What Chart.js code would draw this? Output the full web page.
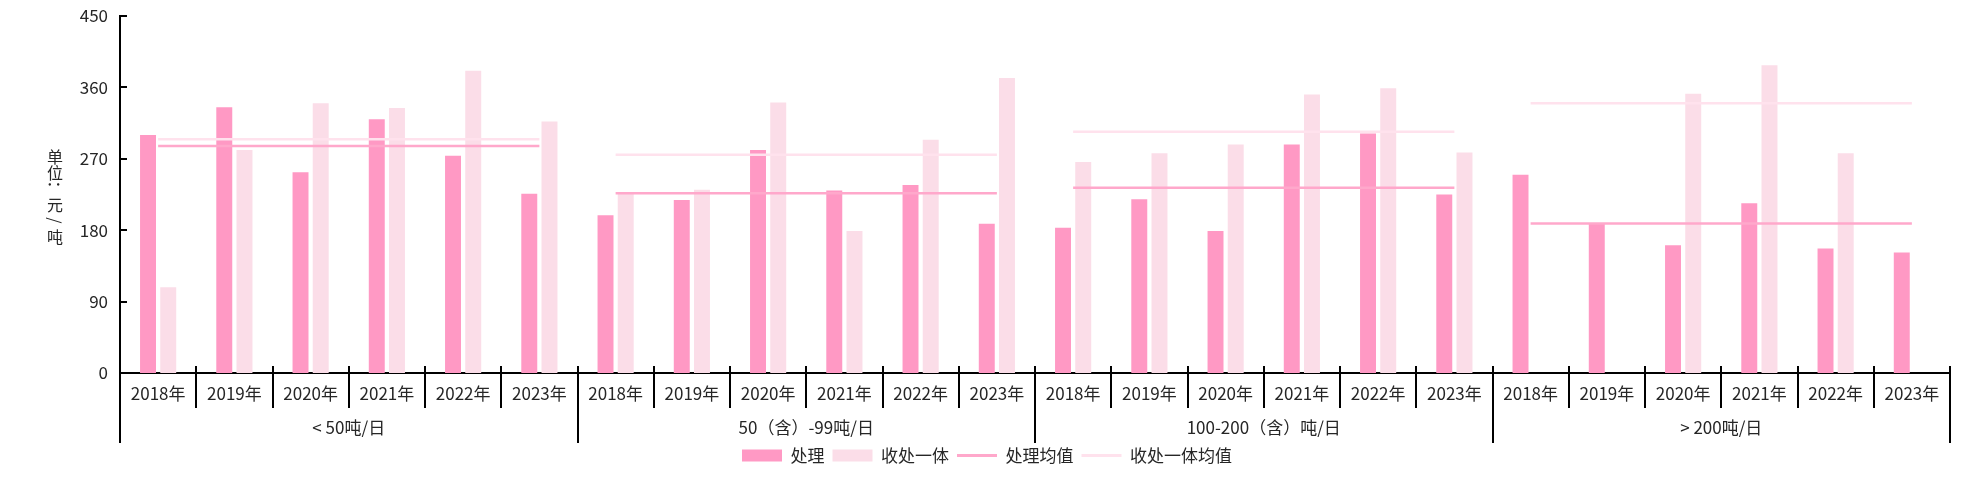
<!DOCTYPE html>
<html>
<head>
<meta charset="utf-8">
<title>处理费用</title>
<script src="https://cdn.jsdelivr.net/npm/chart.js@4.4.1/dist/chart.umd.min.js"></script>
<style>
  html, body { margin: 0; padding: 0; background: #fff; }
  .wrap { width: 1974px; height: 480px; position: relative; }
</style>
</head>
<body>
<div class="wrap"><canvas id="costChart"></canvas></div>
<script>
const years = ['2018年', '2019年', '2020年', '2021年', '2022年', '2023年'];
const groups = ['< 50吨/日', '50（含）-99吨/日', '100-200（含）吨/日', '> 200吨/日'];

// 处理 / 收处一体, per group, per year
const chuli = [300, 335, 253, 320, 274, 226,
               199, 218, 281, 230, 237, 188,
               183, 219, 179, 288, 302, 225,
               250, 188, 161, 214, 157, 152];
const shouchu = [108, 281, 340, 334, 381, 317,
                 226, 231, 341, 179, 294, 372,
                 266, 277, 288, 351, 359, 278,
                 null, null, 352, 388, 277, null];

// 均值 lines, one per group
const chuliAvg = [286, 226.5, 233.5, 188.5];
const shouchuAvg = [294.5, 275, 304, 340];

const yTicks = [0, 90, 180, 270, 360, 450];
const yTitle = '单位：元/吨';

const labels = groups.flatMap(() => years);
const spread = arr => groups.flatMap((g, gi) => years.map(() => arr[gi]));
// break the mean line between groups
const cutAtGroups = ctx => (ctx.p0DataIndex % years.length === years.length - 1) ? 'rgba(0,0,0,0)' : undefined;

Chart.defaults.font.family = '"Noto Sans CJK SC", "Noto Sans", sans-serif';
Chart.defaults.color = '#262626';

const groupDecor = {
  id: 'groupDecor',
  afterDraw(chart) {
    const { ctx, chartArea, scales: { x, y } } = chart;
    const axisY = chartArea.bottom;
    const n = labels.length;
    const w = (chartArea.right - chartArea.left) / n;
    ctx.save();
    ctx.strokeStyle = '#000';
    ctx.lineWidth = 2;
    for (let i = 0; i <= n; i++) {
      const px = Math.round(x.getPixelForValue(0) - w / 2 + i * w);
      const isGroup = i % years.length === 0;
      ctx.beginPath();
      ctx.moveTo(px, i === 0 ? axisY : axisY - 7);
      ctx.lineTo(px, isGroup ? axisY + 70 : axisY + 35);
      ctx.stroke();
    }
    // small inward ticks on y axis
    yTicks.forEach(v => {
      const py = Math.round(y.getPixelForValue(v));
      ctx.beginPath();
      ctx.moveTo(chartArea.left, py);
      ctx.lineTo(chartArea.left + 7, py);
      ctx.stroke();
    });
    // group labels under the years
    ctx.fillStyle = '#262626';
    ctx.font = '17px "Noto Sans CJK SC", sans-serif';
    ctx.textAlign = 'center';
    ctx.textBaseline = 'middle';
    groups.forEach((g, gi) => {
      const cx = (x.getPixelForValue(gi * years.length) + x.getPixelForValue(gi * years.length + years.length - 1)) / 2;
      ctx.fillText(g, cx, axisY + 55);
    });
    // vertical y title, upright CJK
    ctx.font = '16px "Noto Sans CJK SC", sans-serif';
    const step = 16;
    const cy0 = (chartArea.top + chartArea.bottom) / 2 - (yTitle.length - 1) * step / 2 + 2;
    [...yTitle].forEach((ch, i) => {
      const cy = cy0 + i * step;
      if (ch === '：' || ch === '/') {
        ctx.save();
        ctx.translate(55, cy);
        ctx.rotate(Math.PI / 2);
        ctx.fillText(ch, 0, 0);
        ctx.restore();
      } else {
        ctx.fillText(ch, 55, cy);
      }
    });
    ctx.restore();
  }
};

new Chart(document.getElementById('costChart'), {
  type: 'bar',
  data: {
    labels: labels,
    datasets: [
      {
        label: '处理',
        data: chuli,
        backgroundColor: '#FF99C4',
        categoryPercentage: 0.53,
        barPercentage: 0.79,
        order: 2
      },
      {
        label: '收处一体',
        data: shouchu,
        backgroundColor: '#FBDDE8',
        categoryPercentage: 0.53,
        barPercentage: 0.79,
        order: 2
      },
      {
        type: 'line',
        label: '处理均值',
        data: spread(chuliAvg),
        borderColor: '#FFA8CB',
        borderWidth: 2.5,
        pointRadius: 0,
        segment: { borderColor: cutAtGroups },
        order: 1
      },
      {
        type: 'line',
        label: '收处一体均值',
        data: spread(shouchuAvg),
        borderColor: '#FFE2ED',
        borderWidth: 2.5,
        pointRadius: 0,
        segment: { borderColor: cutAtGroups },
        order: 1
      }
    ]
  },
  options: {
    responsive: true,
    maintainAspectRatio: false,
    animation: false,
    layout: { padding: { left: 0, right: 0, top: 16, bottom: 6 } },
    scales: {
      x: {
        grid: { display: false, drawTicks: false },
        border: { display: true, color: '#000', width: 2 },
        ticks: { font: { size: 17 }, padding: 10, maxRotation: 0, autoSkip: false },
        afterFit(scale) { scale.height = 66; }
      },
      y: {
        min: 0,
        max: 450,
        afterBuildTicks(scale) { scale.ticks = yTicks.map(v => ({ value: v })); },
        grid: { display: false, drawTicks: true, tickLength: 8 },
        border: { display: true, color: '#000', width: 2 },
        ticks: { font: { size: 17 }, padding: 4 },
        afterFit(scale) { scale.width = 120; }
      },
      // empty right margin so the legend centres on the whole canvas
      yRight: {
        position: 'right',
        grid: { display: false, drawTicks: false },
        border: { display: false },
        ticks: { display: false },
        afterFit(scale) { scale.width = 24; }
      }
    },
    plugins: {
      tooltip: { enabled: false },
      legend: {
        position: 'bottom',
        labels: {
          usePointStyle: true,
          pointStyleWidth: 40,
          boxHeight: 12,
          padding: 8,
          font: { size: 17 },
          sort: (a, b) => a.datasetIndex - b.datasetIndex,
          generateLabels(chart) {
            const items = Chart.defaults.plugins.legend.labels.generateLabels(chart);
            items.forEach(it => {
              const ds = chart.data.datasets[it.datasetIndex];
              if (ds.type === 'line') {
                it.pointStyle = 'line';
                it.strokeStyle = ds.borderColor;
                it.lineWidth = 3;
              } else {
                it.pointStyle = 'rect';
                it.fillStyle = ds.backgroundColor;
                it.lineWidth = 0;
              }
            });
            return items;
          }
        }
      }
    }
  },
  plugins: [groupDecor]
});
</script>
</body>
</html>
